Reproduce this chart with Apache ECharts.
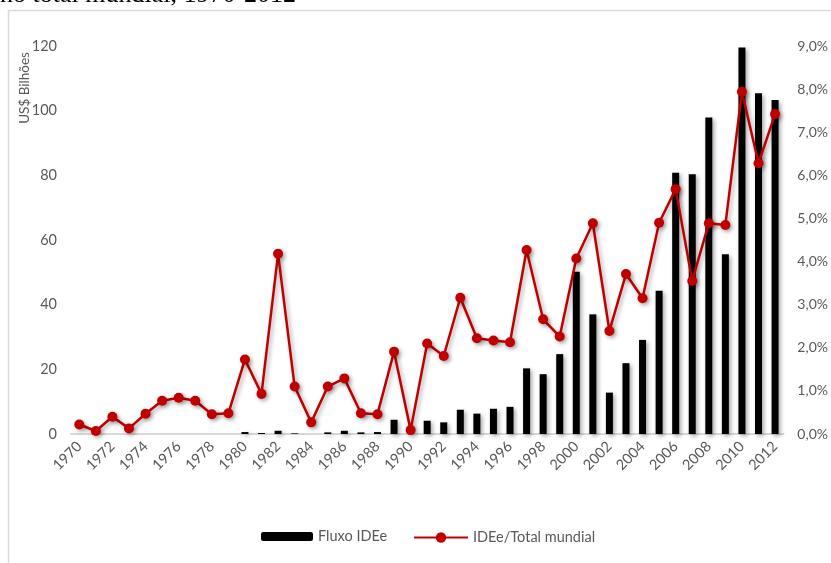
<!DOCTYPE html>
<html>
<head>
<meta charset="utf-8">
<script src="https://cdn.jsdelivr.net/npm/echarts@6/dist/echarts.min.js"></script>
<style>
  html, body { margin: 0; padding: 0; background: #fff; }
  #chart { width: 831px; height: 563px; }
</style>
</head>
<body>
<div id="chart"></div>
<script>
// Years 1970–2012
const years = [];
for (let y = 1970; y <= 2012; y++) years.push(String(y));

// Outward FDI flow (US$ billions)
const fluxoIDEe = [
  0, 0, 0, 0, 0, 0, 0, 0, 0, 0,
  0.6, 0.3, 1.0, 0.2, 0, 0.5, 1.0, 0.5, 0.6, 4.4,
  0, 4.1, 3.6, 7.5, 6.3, 7.8, 8.4, 20.3, 18.5, 24.7,
  50.2, 37.0, 12.8, 21.9, 29.1, 44.3, 80.8, 80.3, 97.9, 55.6,
  119.5, 105.4, 103.3
];

// Share of world total (%)
const ideeTotalMundial = [
  0.22, 0.07, 0.40, 0.13, 0.47, 0.77, 0.84, 0.77, 0.46, 0.48,
  1.73, 0.93, 4.18, 1.10, 0.27, 1.10, 1.29, 0.48, 0.46, 1.91,
  0.09, 2.10, 1.81, 3.16, 2.22, 2.17, 2.13, 4.27, 2.66, 2.26,
  4.07, 4.89, 2.39, 3.71, 3.15, 4.90, 5.68, 3.55, 4.89, 4.85,
  7.94, 6.28, 7.42
];

const seriesNames = ['Fluxo IDEe', 'IDEe/Total mundial'];

const FONT = 'Lato';
const LABEL = '#595959';
const shadow = {
  shadowColor: 'rgba(0,0,0,0.35)',
  shadowBlur: 4,
  shadowOffsetX: 2,
  shadowOffsetY: 2
};
const legendText = { color: LABEL, fontSize: 14.5, fontFamily: FONT };

const chart = echarts.init(document.getElementById('chart'), null, { renderer: 'canvas' });

chart.setOption({
  backgroundColor: '#ffffff',
  animation: false,
  textStyle: { fontFamily: FONT },
  graphic: [
    {
      type: 'rect',
      shape: { x: 8.5, y: 10.5, width: 840, height: 580 },
      style: { fill: 'none', stroke: '#d9d9d9', lineWidth: 1.5 },
      z: -10
    },
    {
      type: 'text',
      x: 0,
      y: 8,
      style: {
        text: 'no total mundial, 1970-2012',
        font: '26px "Liberation Serif"',
        fill: '#000',
        verticalAlign: 'bottom'
      }
    },
    {
      type: 'text',
      x: 25,
      y: 88,
      rotation: Math.PI / 2,
      style: {
        text: 'US$ Bilhões',
        font: '13.5px ' + FONT,
        fill: LABEL,
        align: 'center',
        verticalAlign: 'middle'
      }
    }
  ],
  grid: { left: 71, right: 46, top: 46, bottom: 129, containLabel: false },
  legend: [
    {
      data: [seriesNames[0]],
      top: 524,
      left: 256,
      itemWidth: 52,
      itemHeight: 9,
      textStyle: legendText
    },
    {
      data: [seriesNames[1]],
      top: 525,
      left: 408,
      itemWidth: 54,
      itemHeight: 13,
      textStyle: legendText
    }
  ],
  xAxis: {
    type: 'category',
    data: years,
    axisLine: { show: true, lineStyle: { color: '#d9d9d9', width: 2 } },
    axisTick: { show: false },
    axisLabel: {
      interval: 1,
      rotate: 45,
      margin: 10,
      color: LABEL,
      fontSize: 14.5,
      fontFamily: FONT
    }
  },
  yAxis: [
    {
      type: 'value',
      min: 0,
      max: 120,
      interval: 20,
      axisLine: { show: false },
      axisTick: { show: false },
      splitLine: { show: false },
      axisLabel: { color: LABEL, fontSize: 14.5, margin: 14, fontFamily: FONT }
    },
    {
      type: 'value',
      min: 0,
      max: 9,
      interval: 1,
      position: 'right',
      axisLine: { show: false },
      axisTick: { show: false },
      splitLine: { show: false },
      axisLabel: {
        color: LABEL,
        fontSize: 14,
        margin: 14,
        fontFamily: FONT,
        formatter: v => v.toFixed(1).replace('.', ',') + '%'
      }
    }
  ],
  series: [
    {
      name: seriesNames[0],
      type: 'bar',
      yAxisIndex: 0,
      data: fluxoIDEe,
      barWidth: 7,
      itemStyle: Object.assign({ color: '#000000' }, shadow),
      z: 2
    },
    {
      name: seriesNames[1],
      type: 'line',
      yAxisIndex: 1,
      data: ideeTotalMundial,
      symbol: 'circle',
      symbolSize: 10,
      lineStyle: Object.assign({ color: '#c00000', width: 2.5 }, shadow),
      itemStyle: Object.assign({ color: '#c00000' }, shadow),
      z: 3
    }
  ]
});
</script>
</body>
</html>
